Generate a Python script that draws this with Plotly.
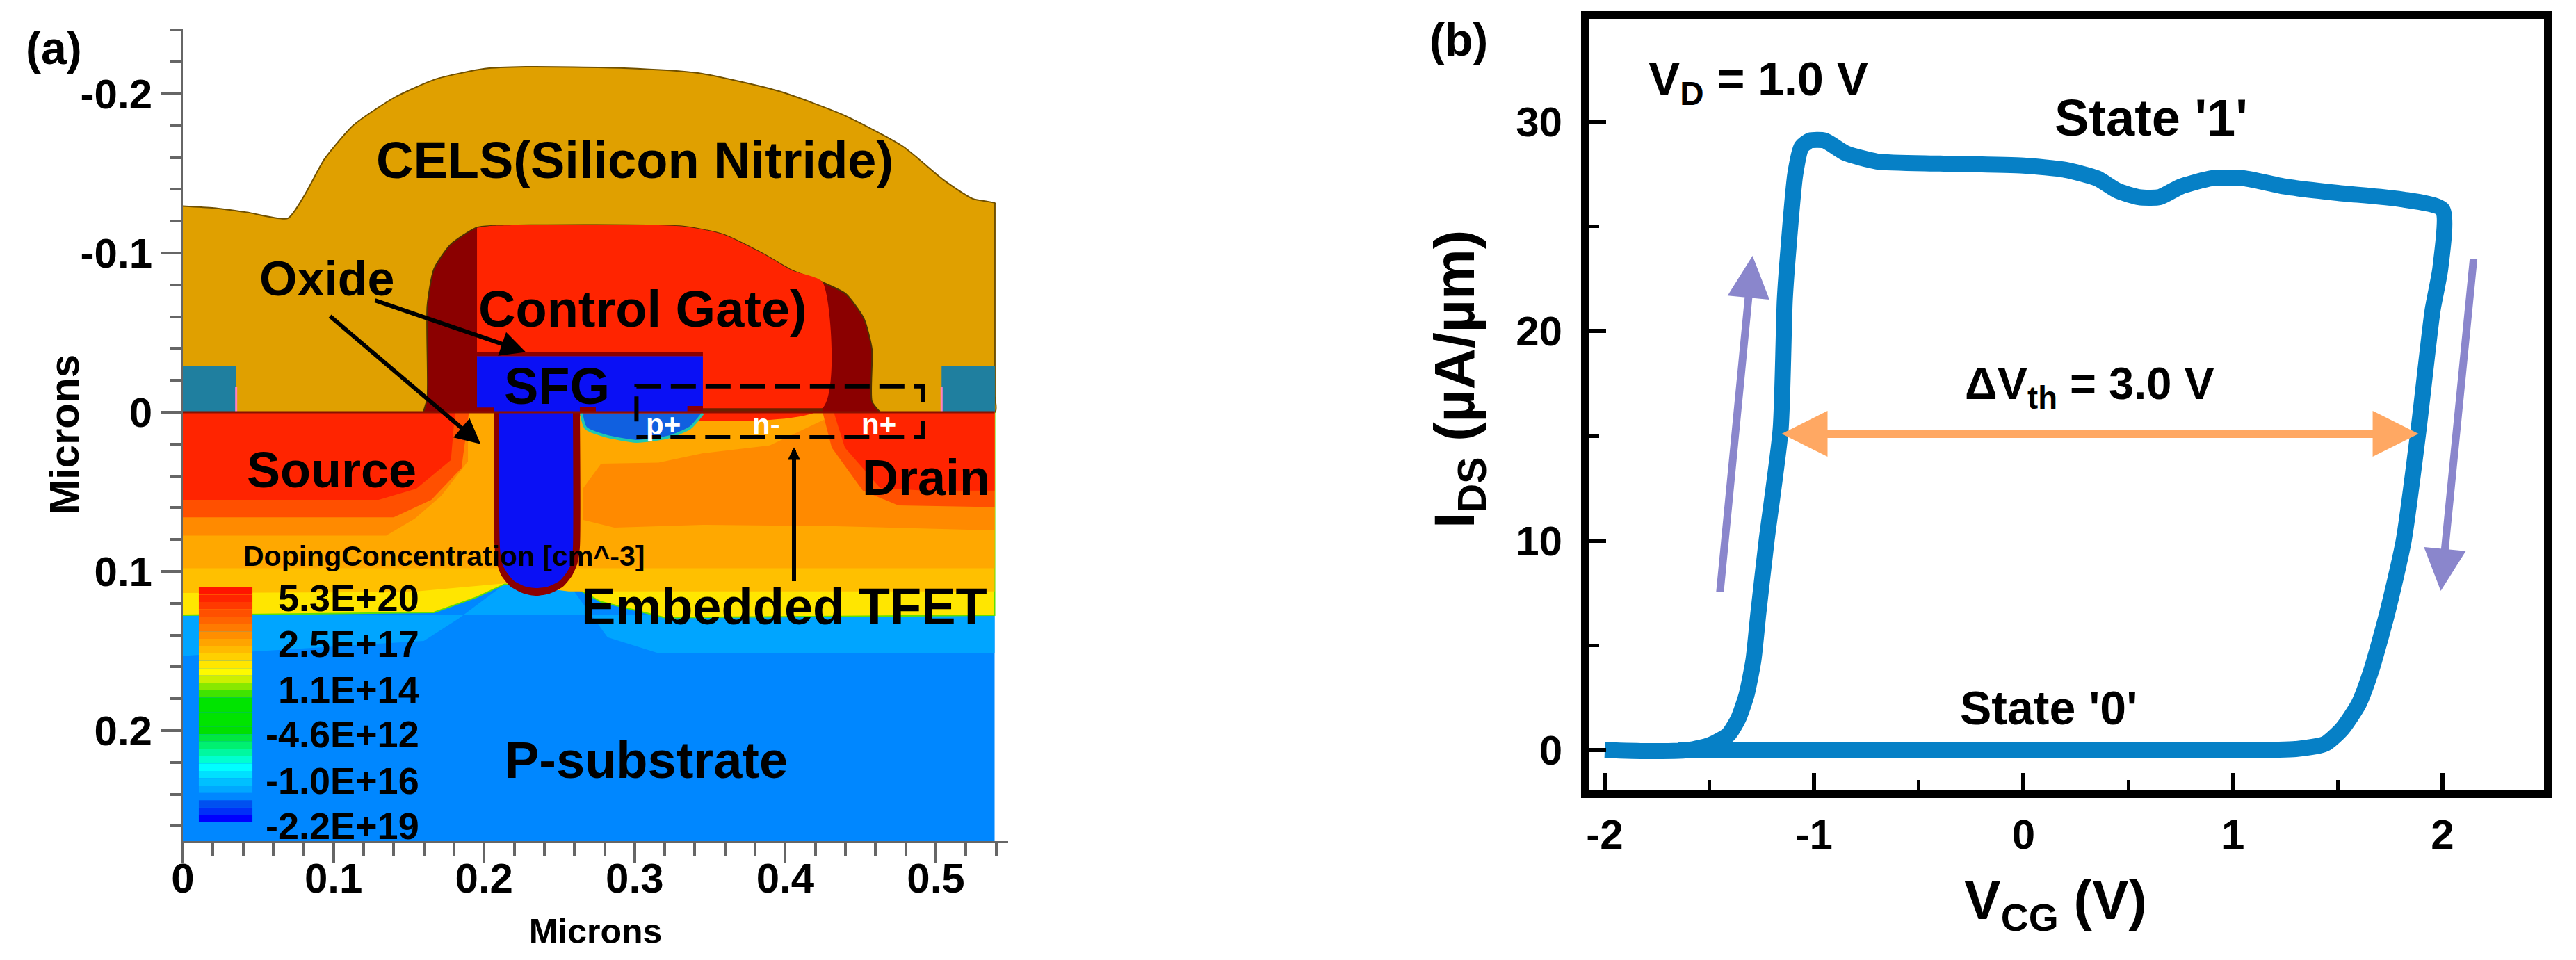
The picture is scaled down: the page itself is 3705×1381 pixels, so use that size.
import plotly.graph_objects as go

W, H = 3705, 1381
PAGE_M = 8          # the page's own margin round the plot
PW, PH = W - 2 * PAGE_M, H - 2 * PAGE_M


def fx(px):
    return (px - PAGE_M) / PW


def fy(py):
    return 1 - (py - PAGE_M) / PH


# ---------- panel (a): device cross-section, coordinates in microns ----------
sub_x = [0, 0.539, 0.539, 0]
sub_y = [0, 0, 0.2694, 0.2694]
band_x = [0, .160, .183, .2138, .2562, .282, .3148, .539, .539, 0]
band_y = [.153, .1437, .1297, .1079, .1079, .1414, .1511, .1511, .1275, .1275]
yellow_x = [0, .539, .539, .32, .2775, .2562, .2138, .195, .1667, 0]
yellow_y = [0, 0, .1275, .129, .119, .1079, .1079, .1162, .1257, .1275]
gold_x = [0, .539, .539, .2562, .2138, .15, 0]
gold_y = [0, 0, .1125, .1125, .1075, .113, .1135]
orange_x = [0, .539, .539, 0]
orange_y = [0, 0, .098, .098]
dark_left_x = [0, .1893, .1893, .1717, .1541, .135, 0]
dark_left_y = [0, 0, .0308, .0524, .0668, .0775, .0775]
dark_mid_x = [.2659, .2777, .3158, .3453, .3897, .4308, .539, .539, .4337, .3453, .2865, .2659]
dark_mid_y = [.0476, .0323, .0317, .0258, .0208, .0024, 0, .0742, .0716, .0707, .0725, .0677]
src_outer_x = [0, .19, .185, .165, .14, 0]
src_outer_y = [0, 0, .035, .055, .066, .066]
src_x = [0, .1807, .178, .155, .13, 0]
src_y = [0, 0, .03, .048, .055, .055]
drn_outer_x = [.4248, .539, .539, .4751, .4515, .4309]
drn_outer_y = [0, 0, .0596, .0585, .0492, .0223]
drn_x = [.4322, .539, .539, .4926, .463, .4396]
drn_y = [0, 0, .0492, .0492, .0476, .0223]
nit_x = [0, .0207, .0425, .0697, .0806, .0942, .1133, .1405, .1678, .2004, .2277, .293, .342,
         .3965, .4401, .4782, .5054, .5245, .5392, .5392, .5392, .5392, .5392, 0, 0]
nit_y = [-.1295, -.1283, -.1256, -.1218, -.136, -.1592, -.1803, -.1977, -.2092, -.2158, -.217,
         -.2162, -.2131, -.2015, -.1861, -.1669, -.1457, -.1341, -.1314, -.1305, -.12, -.01, 0, 0, -.01]
sti_x = [0, .0354, .0354, 0, None, .5038, .5392, .5392, .5038]
sti_y = [-.0293, -.0293, 0, 0, None, -.0293, -.0293, 0, 0]
pink_x = [.0354, .0354, None, .5038, .5038]
pink_y = [-.016, 0, None, -.016, 0]
gate_x = [.1596, .1623, .1623, .1667, .1776, .195, .2059, .3312, .3584, .3856, .4047, .4237, .4401,
          .4521, .4575, .4575, .463]
gate_y = [0, -.0089, -.0667, -.0898, -.1052, -.116, -.1171, -.1168, -.1118, -.0994, -.089, -.0821,
          -.0744, -.059, -.0397, -.0069, 0]
poly_x = [.1953, .2059, .3312, .3584, .3856, .4047, .4248, .4248, .1953]
poly_y = [-.1158, -.1171, -.1168, -.1118, -.0994, -.089, -.0817, -.0026, -.0026]
sfg_ox_x = [.1953, .3453, .3453, .1953]
sfg_ox_y = [-.0377, -.0377, -.0353, -.0353]
sfg_x = [.1953, .3453, .3453, .1953]
sfg_y = [-.0353, -.0353, 0, 0]
liner_x = [.2064, .207, .2085, .2115, .2175, .2265, .235, .2435, .2525, .2585, .262, .2636, .2636]
liner_y = [0, .085, .095, .1026, .1095, .114, .1153, .114, .1095, .1026, .095, .085, 0]
stem_x = [.21, .2105, .212, .215, .22, .2275, .235, .2425, .25, .255, .258, .259, .259]
stem_y = [0, .085, .095, .1005, .106, .1095, .1105, .1095, .106, .1005, .095, .085, 0]
notch_x = [.1925, .2064, .2064, .1925, None, .2636, .2742, .2742, .2636, None, .335, .3453, .3453, .335]
notch_y = [-.003, -.003, 0, 0, None, -.0035, -.0035, -.0005, -.0005, None, -.0039, -.0039, -.0006, -.0006]
bowl_x = [.2645, .2675, .2806, .3012, .3218, .3367, .3453]
bowl_y = [.0007, .0099, .0149, .0183, .0157, .0099, .0007]
tox_x = [.3453, .4248]
tox_y = [-.0012, -.0012]
surface_x = [0, .539]
surface_y = [0, 0]
dash_x = [.3012, .3012, .4914, .4914, None, .4914, .4914, .3012]
dash_y = [.0058, -.0163, -.0163, -.0005, None, .0057, .0157, .0157]

legend_x = [.0106, .0462]
legend_top, legend_bottom = .110, .2576
legend_colors = ["#FF1400", "#FF2400", "#FF3A00", "#FF5000", "#FF6400", "#FF7A00", "#FF8E00", "#FFA400",
                 "#FFBA00", "#FFD000", "#FFE600", "#FFFA00", "#CCF000", "#88E800", "#40E400", "#00E400",
                 "#00E400", "#00E400", "#00E400", "#00E000", "#00E840", "#00F070", "#00F8A0", "#00FFD0",
                 "#00FFFF", "#00E0FF", "#00C0FF", "#00A8FF", "#0087FF", "#0050F0", "#0030F8", "#0000FF"]
legend_labels = ["5.3E+20", "2.5E+17", "1.1E+14", "-4.6E+12", "-1.0E+16", "-2.2E+19"]
legend_label_y = [.1164, .1453, .1742, .2023, .2312, .2597]
legend_label_x = .158

a_labels = [("CELS(Silicon Nitride)", .3001, -.1584, 74, "black"), ("Oxide", .0959, -.084, 70, "black"),
            ("Control Gate)", .3056, -.0647, 74, "black"), ("SFG", .2484, -.0166, 74, "black"),
            ("Source", .0986, .0362, 72, "black"), ("Drain", .4935, .0412, 72, "black"),
            ("Embedded TFET", .3992, .1222, 74, "black"), ("P-substrate", .3077, .2185, 74, "black"),
            ("p+", .3192, .0077, 42, "white"), ("n-", .3873, .0077, 42, "white"), ("n+", .4619, .0077, 42, "white"),
            ("DopingConcentration [cm^-3]", .1732, .0902, 41, "black")]
a_arrows = [(.1269, -.0705, .2277, -.0378, 1.2), (.097, -.0609, .1977, .02, 1.2), (.4058, .1067, .4058, .022, .6)]

a_xticks = [0, .1, .2, .3, .4, .5]
a_xticklabels = ["0", "0.1", "0.2", "0.3", "0.4", "0.5"]
a_yticks = [-.2, -.1, 0, .1, .2]
a_yticklabels = ["-0.2", "-0.1", "0", "0.1", "0.2"]

# ---------- panel (b): hysteresis loop ----------
vcg = [-2.0, -1.8, -1.6, -1.495, -1.41, -1.362, -1.323, -1.29, -1.266, -1.227, -1.16, -1.14, -1.123, -1.09, -1.06,
       -1.02, -.95, -.85, -.7, -.4, 0, .2, .35, .45, .55, .65, .75, .9, 1.05, 1.25, 1.5, 1.8, 2.0, 1.99, 1.953,
       1.886, 1.815, 1.737, 1.66, 1.6, 1.52, 1.44, 1.3, 1.0, 0, -1.4, -1.65]
ids = [0, -.05, 0, .25, .73, 1.5, 2.62, 4.28, 6.56, 10, 15.3, 21.5, 23.9, 27.5, 28.8, 29.1, 29.1, 28.5, 28.1, 28,
       27.9, 27.7, 27.3, 26.7, 26.4, 26.4, 26.9, 27.3, 27.3, 26.9, 26.6, 26.3, 25.8, 23, 21, 15.3, 10, 6.56, 3.8,
       2.2, 1.0, .3, .05, 0, 0, 0, 0]
b_xticks = [-2, -1, 0, 1, 2]
b_yticks = [0, 10, 20, 30]
b_labels = [("V<sub>D</sub> = 1.0 V", -1.266, 31.9, 68), ("State '1'", .61, 30.2, 74), ("State '0'", .12, 2.04, 68),
            ("\u0394V<sub>th</sub> = 3.0 V", .316, 17.35, 65)]
up_arrow = (-1.45, 7.5, -1.294, 23.6)
down_arrow = (2.149, 23.5, 1.992, 7.6)
gap_arrow = (-1.16, 15.1, 1.886, 15.1)

curve_color = "#0680C6"
GOLD, RED, DRED, BLUE = "#E0A000", "#FF2400", "#8B0000", "#0A10F5"

fig = go.Figure()


def poly(x, y, color, line=None, lw=0, smooth=False):
    ln = dict(color=line or color, width=lw)
    if smooth:
        ln.update(shape="spline", smoothing=.6)
    fig.add_trace(go.Scatter(x=x, y=y, mode="lines", fill="toself", fillcolor=color, line=ln, hoverinfo="skip",
                             showlegend=False, xaxis="x", yaxis="y"))


def path(x, y, color, lw, dash="solid"):
    fig.add_trace(go.Scatter(x=x, y=y, mode="lines", line=dict(color=color, width=lw, dash=dash),
                             hoverinfo="skip", showlegend=False, xaxis="x", yaxis="y"))


poly(nit_x, nit_y, GOLD, "#705000", 2, True)
poly(sti_x, sti_y, "#1F7F9F")
path(pink_x, pink_y, "#FF80C0", 3)
poly(sub_x, sub_y, "#0087FF")
poly(band_x, band_y, "#00A5FF")
poly(yellow_x, yellow_y, "#FFE600", "#60E000", 2)
poly(gold_x, gold_y, "#FFC000")
poly(orange_x, orange_y, "#FFA800")
poly(dark_left_x, dark_left_y, "#FF8A00")
poly(dark_mid_x, dark_mid_y, "#FF8A00")
poly(src_outer_x, src_outer_y, "#FF5000")
poly(src_x, src_y, RED)
poly(drn_outer_x, drn_outer_y, "#FF5000")
poly(drn_x, drn_y, RED)
poly(gate_x, gate_y, DRED, "#503000", 2, True)
poly(poly_x, poly_y, RED, smooth=True)
poly(sfg_x, sfg_y, BLUE)
poly(sfg_ox_x, sfg_ox_y, DRED)
poly(bowl_x, bowl_y, "#1060E0", "#20C8B0", 4, True)
poly(liner_x, liner_y, DRED, smooth=True)
poly(stem_x, stem_y, BLUE, smooth=True)
poly(notch_x, notch_y, DRED)
path(tox_x, tox_y, "#6B2000", 6)
path(surface_x, surface_y, "#8B1000", 3)
path(dash_x, dash_y, "black", 6, "36px,14px")

n = len(legend_colors)
for i, c in enumerate(legend_colors):
    y0 = legend_top + (legend_bottom - legend_top) * i / n
    y1 = legend_top + (legend_bottom - legend_top) * (i + 1) / n
    poly([legend_x[0], legend_x[1], legend_x[1], legend_x[0]], [y0, y0, y1, y1], c)

fig.add_trace(go.Scatter(x=vcg, y=ids, mode="lines", line=dict(color=curve_color, width=23, shape="spline", smoothing=.6),
                         hoverinfo="skip", showlegend=False, xaxis="x2", yaxis="y2"))

ann = []
FONT = "Liberation Sans"
for t, x, y, s, c in a_labels:
    ann.append(dict(text=f"<b>{t}</b>", x=x, y=y, xref="x", yref="y", showarrow=False,
                    font=dict(family=FONT, size=s, color=c)))
for lab, y in zip(legend_labels, legend_label_y):
    ann.append(dict(text=f"<b>{lab}</b>", x=legend_label_x, y=y, xref="x", yref="y", showarrow=False, xanchor="right",
                    font=dict(family=FONT, size=54, color="black")))
for x0, y0, x1, y1, sz in a_arrows:
    ann.append(dict(text="", x=x1, y=y1, ax=x0, ay=y0, xref="x", yref="y", axref="x", ayref="y", showarrow=True,
                    arrowhead=2, arrowsize=sz, arrowwidth=6, arrowcolor="black"))
for t, x, y, s in b_labels:
    ann.append(dict(text=f"<b>{t}</b>", x=x, y=y, xref="x2", yref="y2", showarrow=False,
                    font=dict(family=FONT, size=s, color="black")))
for (x0, y0, x1, y1) in (up_arrow, down_arrow):
    ann.append(dict(text="", x=x1, y=y1, ax=x0, ay=y0, xref="x2", yref="y2", axref="x2", ayref="y2", showarrow=True,
                    arrowhead=2, arrowsize=1.1, arrowwidth=11, arrowcolor="#8A86CC"))
x0, y0, x1, y1 = gap_arrow
ann.append(dict(text="", x=x1, y=y1, ax=x0, ay=y0, xref="x2", yref="y2", axref="x2", ayref="y2", showarrow=True,
                arrowhead=2, startarrowhead=2, arrowside="end+start", arrowsize=1.1, startarrowsize=1.1,
                arrowwidth=12, arrowcolor="#FFA863"))
paper_text = dict(xref="paper", yref="paper", xanchor="center", yanchor="middle", showarrow=False)
ann.append(dict(paper_text, text="<b>(a)</b>", x=fx(77), y=fy(69), font=dict(family=FONT, size=66, color="black")))
ann.append(dict(paper_text, text="<b>(b)</b>", x=fx(2098), y=fy(57), font=dict(family=FONT, size=66, color="black")))
ann.append(dict(paper_text, text="<b>Microns</b>", x=fx(93), y=fy(625), textangle=-90,
                font=dict(family=FONT, size=60, color="black")))
ann.append(dict(paper_text, text="<b>I<sub>DS</sub> (\u00b5A/\u00b5m)</b>", x=fx(2098), y=fy(546), textangle=-90,
                font=dict(family=FONT, size=82, color="black")))
ann.append(dict(paper_text, text="<b>V<sub>CG</sub> (V)</b>", x=fx(2956), y=fy(1300),
                font=dict(family=FONT, size=79, color="black")))

axis_a = dict(showgrid=False, zeroline=False, showline=True, linecolor="#666", linewidth=3, ticks="outside",
              tickcolor="#666", tickwidth=4, tickfont=dict(family=FONT, size=60, color="black"), tickmode="array",
              automargin=False)
axis_b = dict(showgrid=False, zeroline=False, showline=True, linecolor="black", linewidth=12, mirror=True,
              ticks="inside", tickcolor="black", tickwidth=6, ticklen=24,
              tickfont=dict(family=FONT, size=60, color="black"), tickmode="array", automargin=False)

fig.update_layout(
    width=PW, height=PH, autosize=False, margin=dict(l=0, r=0, t=0, b=0),
    paper_bgcolor="white", plot_bgcolor="white", annotations=ann, showlegend=False,
    xaxis=dict(axis_a, domain=[fx(263), fx(1450)], range=[0, .548], anchor="y", tickvals=a_xticks,
               ticktext=[f"<b>{t}</b>" for t in a_xticklabels], ticklen=29, ticklabelstandoff=-30,
               minor=dict(tickmode="linear", tick0=0, dtick=.02, ticks="outside", ticklen=18, tickwidth=4, tickcolor="#666"),
               title=dict(text="<b>Microns</b>", font=dict(family=FONT, size=50, color="black"), standoff=26)),
    yaxis=dict(axis_a, domain=[fy(1210), fy(42)], range=[.2694, -.2406], anchor="x", tickvals=a_yticks,
               ticktext=[f"<b>{t}</b>" for t in a_yticklabels], ticklen=29,
               minor=dict(tickmode="linear", tick0=0, dtick=.02, ticks="outside", ticklen=16, tickwidth=4, tickcolor="#666")),
    xaxis2=dict(axis_b, domain=[fx(2286), fx(3659)], range=[-2.073, 2.485], anchor="y2", tickvals=b_xticks,
                ticktext=[f"<b>{t}</b>" for t in b_xticks], ticklabelstandoff=1,
                minor=dict(tickmode="linear", tick0=0, dtick=.5, ticks="inside", ticklen=14, tickwidth=5, tickcolor="black")),
    yaxis2=dict(axis_b, domain=[fy(1136), fy(28)], range=[-1.89, 34.88], anchor="x2", tickvals=b_yticks,
                ticktext=[f"<b>{t}</b>" for t in b_yticks], ticklabelstandoff=15,
                minor=dict(tickmode="linear", tick0=0, dtick=5, ticks="inside", ticklen=14, tickwidth=5, tickcolor="black")),
)

fig.write_html("out.html")
